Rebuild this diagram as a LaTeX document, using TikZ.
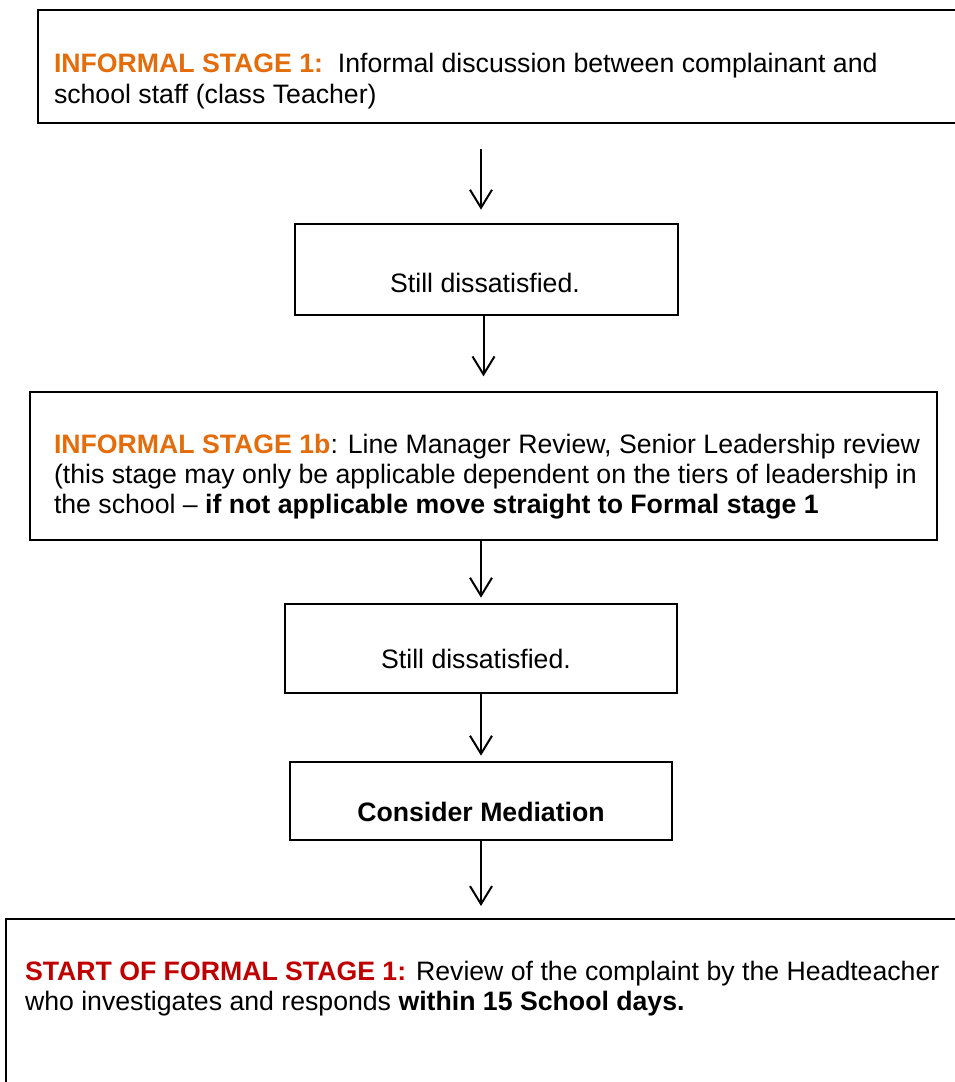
\documentclass[tikz,border=0pt]{standalone}
\usepackage{fontspec}
\setmainfont{Liberation Sans}
\usetikzlibrary{arrows.meta, calc}

\definecolor{stageorange}{RGB}{228,108,10}
\definecolor{stagered}{RGB}{192,0,0}

\begin{document}
\begin{tikzpicture}[x=0.75pt, y=-0.75pt, line width=1.5pt,
    stepbox/.style={draw=black, rectangle, inner sep=0pt},
    bodytext/.style={font=\fontsize{20}{22.5}\selectfont, inner sep=0pt, align=left},
    flowarrow/.style={-{Straight Barb[length=13.5pt, width=16.5pt, line width=1.5pt]}}]
        \useasboundingbox (0,0) rectangle (954,1082);

        % boxes of the flow
        \node[stepbox, minimum width=714pt, minimum height=84.75pt] (box1) at (514, 66.5) {};
        \node[stepbox, minimum width=287.25pt, minimum height=68.25pt] (box2) at (486.5, 269.5) {};
        \node[stepbox, minimum width=680.25pt, minimum height=111pt] (box3) at (483.5, 466) {};
        \node[stepbox, minimum width=294pt, minimum height=66.75pt] (box4) at (481, 648.5) {};
        \node[stepbox, minimum width=286.5pt, minimum height=58.5pt] (box5) at (481, 801) {};
        \node[stepbox, minimum width=738pt, minimum height=143.25pt] (box6) at (498, 1014.5) {};

        % texts (base anchor sits on the last line)
        \node[bodytext, anchor=base west, font=\fontsize{20}{23.25}\selectfont] (text1) at (53, 103)
            {{\color{stageorange}\bfseries INFORMAL STAGE 1:}\ \ Informal discussion between complainant and\\
             school staff (class Teacher)};
        \node[bodytext] (text2) at (485, 283) {Still dissatisfied.};
        \node[bodytext, anchor=base west] (text3) at (53, 513)
            {{\color{stageorange}\bfseries INFORMAL STAGE 1b}: Line Manager Review, Senior Leadership review\\
             (this stage may only be applicable dependent on the tiers of leadership in\\
             the school \textendash{} \textbf{if not applicable move straight to Formal stage 1}};
        \node[bodytext] (text4) at (476, 659) {Still dissatisfied.};
        \node[bodytext, font=\fontsize{20}{22.5}\selectfont\bfseries] (text5) at (481, 812) {Consider Mediation};
        \node[bodytext, anchor=base west] (text6) at (24, 1010)
            {{\color{stagered}\bfseries START OF FORMAL STAGE 1:} Review of the complaint by the Headteacher\\
             who investigates and responds \textbf{within 15 School days.}};

        % arrows between the boxes
        \draw[flowarrow, shorten <=18.75pt, shorten >=10pt] (box1.south -| box5) -- (box2.north -| box5);
        \draw[flowarrow, shorten >=11pt] (box2.south -| box3) -- (box3.north -| box3);
        \draw[flowarrow, shorten >=4pt] (box3.south -| box5) -- (box4.north -| box5);
        \draw[flowarrow, shorten >=4pt] (box4.south -| box5) -- (box5.north -| box5);
        \draw[flowarrow, shorten >=9pt] (box5.south) -- (box6.north -| box5);
\end{tikzpicture}
\end{document}
